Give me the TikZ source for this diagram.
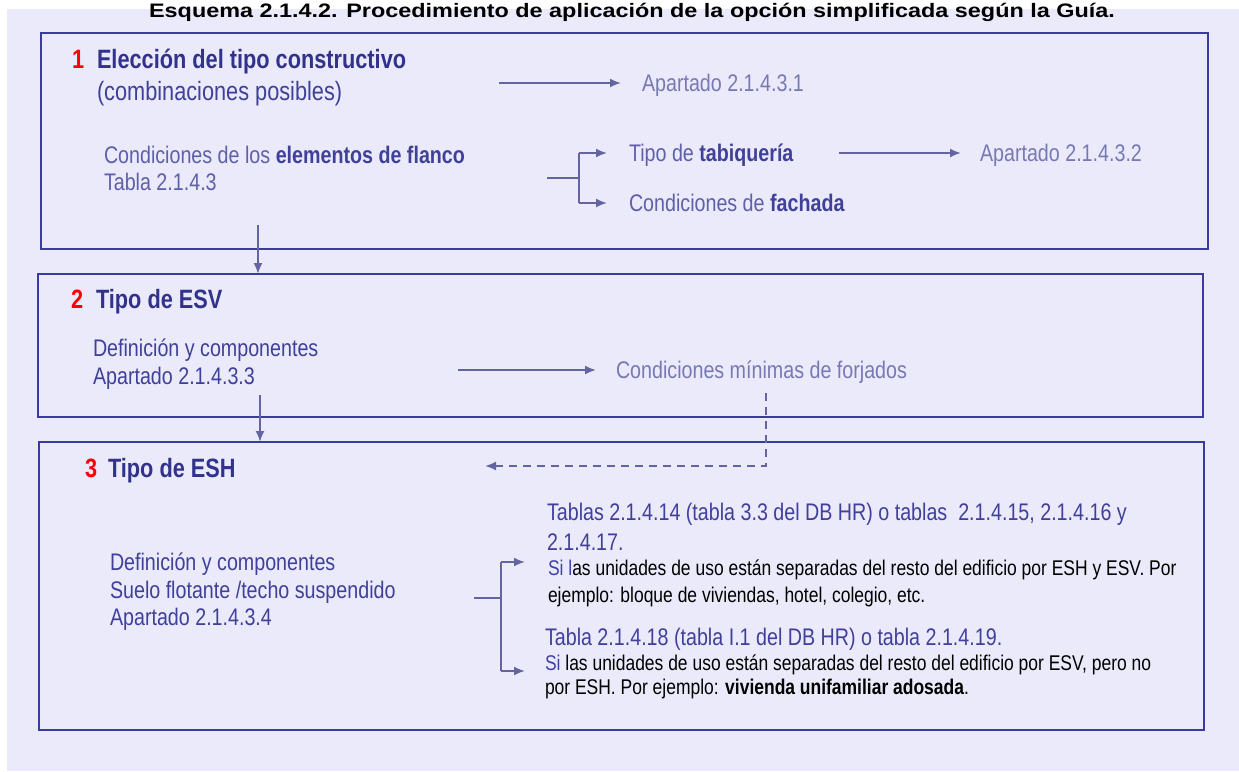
\documentclass[tikz,border=0pt]{standalone}
\usepackage{fontspec}
\setmainfont{Liberation Sans}[FakeStretch=0.82]
\newfontfamily\titlefont{Liberation Sans}[FakeStretch=1.2]
\usetikzlibrary{arrows.meta}
\definecolor{bgc}{RGB}{234,234,250}
\definecolor{boxc}{RGB}{58,58,160}
\definecolor{arrc}{RGB}{100,100,160}
\definecolor{headc}{RGB}{50,50,140}
\definecolor{midc}{RGB}{64,64,155}
\definecolor{subc}{RGB}{95,95,170}
\definecolor{lightc}{RGB}{120,120,180}
\definecolor{sic}{RGB}{64,64,170}
\definecolor{numc}{RGB}{255,0,0}
\newcommand\fhead{\fontsize{26.5}{30}\selectfont}
\newcommand\fbody{\fontsize{24}{28}\selectfont}
\newcommand\fsmall{\fontsize{21.3}{25}\selectfont}
\begin{document}
\begin{tikzpicture}[x=1pt,y=-1pt,
  box/.style={draw=boxc,line width=2.6pt,inner sep=0pt,outer sep=0pt,anchor=north west},
  conn/.style={draw=arrc,line width=1.9pt,-{Latex[length=11pt,width=9pt]}},
  link/.style={draw=arrc,line width=1.9pt},
  dconn/.style={conn,dash pattern=on 8pt off 6pt},
  txt/.style={anchor=base west,inner sep=0pt,outer sep=0pt}]
\useasboundingbox (0,0) rectangle (1239,771);
\fill[bgc] (7,9) rectangle (1239,771);
\node[anchor=base,inner sep=0pt,font=\titlefont\bfseries\fontsize{19.5}{23}\selectfont] (title) at (632,17)
  {Esquema 2.1.4.2. Procedimiento de aplicación de la opción simplificada según la Guía.};

% boxes
\node[box,minimum width=1167pt,minimum height=216pt] (box1) at (41,33) {};
\node[box,minimum width=1165pt,minimum height=143pt] (box2) at (38,274) {};
\node[box,minimum width=1165pt,minimum height=288pt] (box3) at (39,442) {};

% box 1
\node[txt,text=numc,font=\fhead\bfseries] (n1) at (72,68.5) {1};
\node[txt,text=headc,font=\fhead\bfseries] (h1) at (97,68.5) {Elección del tipo constructivo};
\node[txt,text=midc,font=\fhead] (c1) at (97,100.5) {(combinaciones posibles)};
\node[txt,text=lightc,font=\fbody] (ap1) at (642,91.6) {Apartado 2.1.4.3.1};
\coordinate (a1s) at (499,83);
\coordinate (a1e) at (621,83);
\draw[conn] (a1s) -- (a1e);

\node[txt,text=subc,font=\fbody] (fl) at (104,163) {Condiciones de los \textcolor{midc}{\bfseries elementos de flanco}};
\node[txt,text=subc,font=\fbody] (tb) at (104,190) {Tabla 2.1.4.3};
\coordinate (brA) at (547,178);
\coordinate (brM) at (579,178);
\coordinate (brT) at (579,153);
\coordinate (brB) at (579,203);
\coordinate (brTe) at (607,153);
\coordinate (brBe) at (607,203);
\draw[link] (brA) -- (brM);
\draw[link] (brT) -- (brB);
\draw[conn] (brT) -- (brTe);
\draw[conn] (brB) -- (brBe);
\node[txt,text=subc,font=\fbody] (tq) at (629,161.6) {Tipo de \textcolor{midc}{\bfseries tabiquería}};
\node[txt,text=subc,font=\fbody] (fa) at (629,211.6) {Condiciones de \textcolor{midc}{\bfseries fachada}};
\coordinate (a2s) at (839,153);
\coordinate (a2e) at (961,153);
\draw[conn] (a2s) -- (a2e);
\node[txt,text=lightc,font=\fbody] (ap2) at (980,161.6) {Apartado 2.1.4.3.2};
\coordinate (v1s) at (258,225);
\draw[conn] (v1s) -- (v1s |- box2.north);

% box 2
\node[txt,text=numc,font=\fhead\bfseries] (n2) at (71,308.5) {2};
\node[txt,text=headc,font=\fhead\bfseries] (h2) at (96,308.5) {Tipo de ESV};
\node[txt,text=midc,font=\fbody] (d2) at (93,356) {Definición y componentes};
\node[txt,text=midc,font=\fbody] (ap3) at (93,384) {Apartado 2.1.4.3.3};
\coordinate (a3s) at (458,370);
\coordinate (a3e) at (596,370);
\draw[conn] (a3s) -- (a3e);
\node[txt,text=lightc,font=\fbody] (cm) at (616,378.6) {Condiciones mínimas de forjados};
\coordinate (ds) at (766,393);
\coordinate (de) at (485,466);
\draw[dconn] (ds) |- (de);
\coordinate (v2s) at (260,395);
\draw[conn] (v2s) -- (v2s |- box3.north);

% box 3
\node[txt,text=numc,font=\fhead\bfseries] (n3) at (85,477.5) {3};
\node[txt,text=headc,font=\fhead\bfseries] (h3) at (108,477.5) {Tipo de ESH};
\node[txt,text=midc,font=\fbody] (d3a) at (110,570.5) {Definición y componentes};
\node[txt,text=midc,font=\fbody] (d3b) at (110,598) {Suelo flotante /techo suspendido};
\node[txt,text=midc,font=\fbody] (d3c) at (110,625.5) {Apartado 2.1.4.3.4};
\coordinate (bsA) at (474,598);
\coordinate (bsM) at (501,598);
\coordinate (bsT) at (501,562);
\coordinate (bsB) at (501,671);
\coordinate (bsTe) at (525,562);
\coordinate (bsBe) at (525,671);
\draw[link] (bsA) -- (bsM);
\draw[link] (bsT) -- (bsB);
\draw[conn] (bsT) -- (bsTe);
\draw[conn] (bsB) -- (bsBe);
\node[txt,text=midc,font=\fbody] (t1a) at (547,520.6) {Tablas 2.1.4.14 (tabla 3.3 del DB HR) o tablas\ \ 2.1.4.15, 2.1.4.16 y};
\node[txt,text=midc,font=\fbody] (t1b) at (547,550) {2.1.4.17.};
\node[txt,text=black,font=\fsmall] (t1c) at (548,575.5) {\textcolor{sic}{Si l}as unidades de uso están separadas del resto del edificio por ESH y ESV. Por};
\node[txt,text=black,font=\fsmall] (t1d) at (548,602.5) {ejemplo: bloque de viviendas, hotel, colegio, etc.};
\node[txt,text=midc,font=\fbody] (t2a) at (545,645.6) {Tabla 2.1.4.18 (tabla I.1 del DB HR) o tabla 2.1.4.19.};
\node[txt,text=black,font=\fsmall] (t2b) at (545,670.5) {\textcolor{sic}{Si} las unidades de uso están separadas del resto del edificio por ESV, pero no};
\node[txt,text=black,font=\fsmall] (t2c) at (545,694.5) {por ESH. Por ejemplo: \textbf{vivienda unifamiliar adosada}.};
\end{tikzpicture}
\end{document}
